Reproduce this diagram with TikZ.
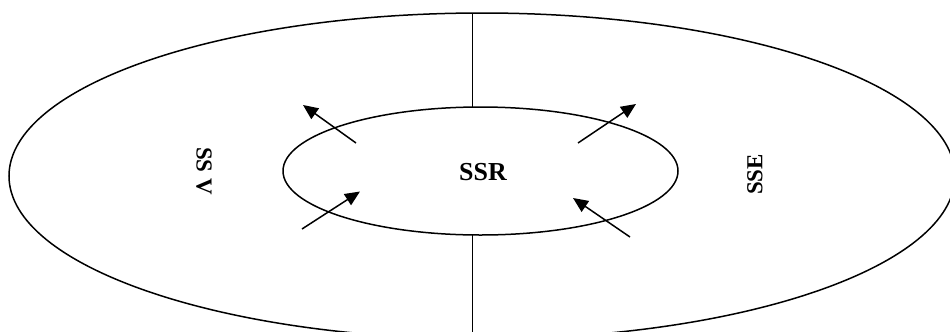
\documentclass[tikz,border=0pt]{standalone}
\usepackage{fontspec}
\setmainfont{Liberation Serif}
\usetikzlibrary{arrows.meta}
\begin{document}
\begin{tikzpicture}[x=1bp,y=-1bp,
  ring/.style={line width=1.5bp},
  divider/.style={line width=1.5bp},
  flow/.style={line width=1.5bp,-{Triangle[length=15bp,width=13bp]}},
  sidelabel/.style={font=\fontsize{23}{27}\selectfont\bfseries,inner sep=0pt},
  centrelabel/.style={font=\fontsize{26}{30}\selectfont\bfseries,inner sep=0pt}]
\useasboundingbox (0,0) rectangle (950,331);
\clip (0,0) rectangle (950,331);
% rings
\draw[ring] (482,176) ellipse [x radius=473, y radius=163];
\draw[ring] (480.5,171) ellipse [x radius=197.5, y radius=64];
% dividers
\coordinate (topa) at (472.5,13);
\coordinate (topb) at (472.5,107);
\coordinate (bota) at (472.5,235);
\coordinate (botb) at (472.5,340);
\draw[divider] (topa) -- (topb);
\draw[divider] (bota) -- (botb);
% labels
\node[centrelabel] (ssr) at (483,172) {SSR};
\node[sidelabel,rotate=-90] (ssv) at (204,171) {SS V};
\node[sidelabel,rotate=90] (sse) at (755,174.5) {SSE};
% arrows
\coordinate (ult) at (356,143);
\coordinate (ulh) at (303,105);
\coordinate (urt) at (578,143);
\coordinate (urh) at (636,104);
\coordinate (llt) at (302,229);
\coordinate (llh) at (360,191.5);
\coordinate (lrt) at (630,237);
\coordinate (lrh) at (573,198);
\draw[flow] (ult) -- (ulh);
\draw[flow] (urt) -- (urh);
\draw[flow] (llt) -- (llh);
\draw[flow] (lrt) -- (lrh);
\end{tikzpicture}
\end{document}
